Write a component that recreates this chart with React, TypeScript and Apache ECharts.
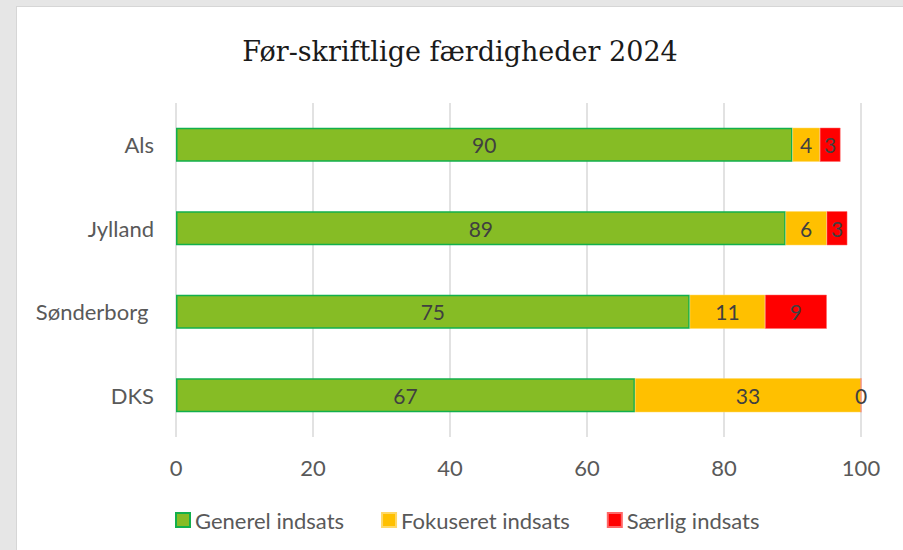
import React, { useEffect, useRef } from "react";
import * as echarts from "echarts";

const categories = ["DKS", "Sønderborg ", "Jylland", "Als"];
const generel = [67, 75, 89, 90];
const fokuseret = [33, 11, 6, 4];
const saerlig = [0, 9, 3, 3];
const xTicks = [0, 20, 40, 60, 80, 100];
const titleText = "Før-skriftlige færdigheder 2024";
const seriesNames = ["Generel indsats", "Fokuseret indsats", "Særlig indsats"];

const FONT = "Lato";

export default function App() {
  const ref = useRef<HTMLDivElement>(null);
  useEffect(() => {
    document.body.style.margin = "0";
    const chart = echarts.init(ref.current!, null, { renderer: "svg" });
    const labelStyle = {
      show: true,
      position: "inside",
      color: "#404040",
      fontSize: 21,
      fontFamily: FONT,
    };
    chart.setOption({
      animation: false,
      backgroundColor: "#ffffff",
      title: {
        text: titleText,
        left: "center",
        top: 26,
        textStyle: {
          fontFamily: "DejaVu Serif",
          fontWeight: "normal",
          fontSize: 27,
          color: "#1a1a1a",
        },
      },
      legend: {
        bottom: 14,
        left: 153,
        itemWidth: 14,
        itemHeight: 14,
        itemGap: 37,
        icon: "rect",
        textStyle: { fontSize: 22, color: "#595959", fontFamily: FONT },
        data: seriesNames,
      },
      grid: { left: 159, right: 42, top: 96, bottom: 113, containLabel: false },
      xAxis: {
        type: "value",
        min: xTicks[0],
        max: xTicks[xTicks.length - 1],
        interval: 20,
        axisLine: { show: false },
        axisTick: { show: false },
        axisLabel: { color: "#595959", fontSize: 22, fontFamily: FONT, margin: 19 },
        splitLine: { lineStyle: { color: "#d9d9d9", width: 1.5 } },
      },
      yAxis: {
        type: "category",
        data: categories,
        axisLine: { show: false },
        axisTick: { show: false },
        axisLabel: { color: "#595959", fontSize: 22, fontFamily: FONT, margin: 22 },
      },
      series: [
        {
          name: seriesNames[0],
          type: "bar",
          stack: "t",
          data: generel,
          barWidth: 34,
          itemStyle: { color: "#86bc25", borderColor: "#12b04c", borderWidth: 1.5 },
          label: labelStyle,
        },
        {
          name: seriesNames[1],
          type: "bar",
          stack: "t",
          data: fokuseret,
          barWidth: 34,
          itemStyle: { color: "#ffc000", borderColor: "#ffd866", borderWidth: 0.5 },
          label: labelStyle,
        },
        {
          name: seriesNames[2],
          type: "bar",
          stack: "t",
          data: saerlig,
          barWidth: 34,
          itemStyle: { color: "#ff0000", borderColor: "#ff6666", borderWidth: 0.5 },
          label: labelStyle,
        },
      ],
    });
    return () => chart.dispose();
  }, []);
  return (
    <div
      style={{
        position: "fixed",
        left: 0,
        top: 0,
        width: 903,
        height: 550,
        background: "#e6e6e6",
      }}
    >
      <div
        style={{
          position: "absolute",
          left: 16,
          top: 6,
          width: 887,
          height: 544,
          borderLeft: "1px solid #d6d6d6",
          borderTop: "1px solid #d6d6d6",
          boxSizing: "border-box",
        }}
      >
        <div ref={ref} style={{ width: 886, height: 543 }} />
      </div>
    </div>
  );
}
